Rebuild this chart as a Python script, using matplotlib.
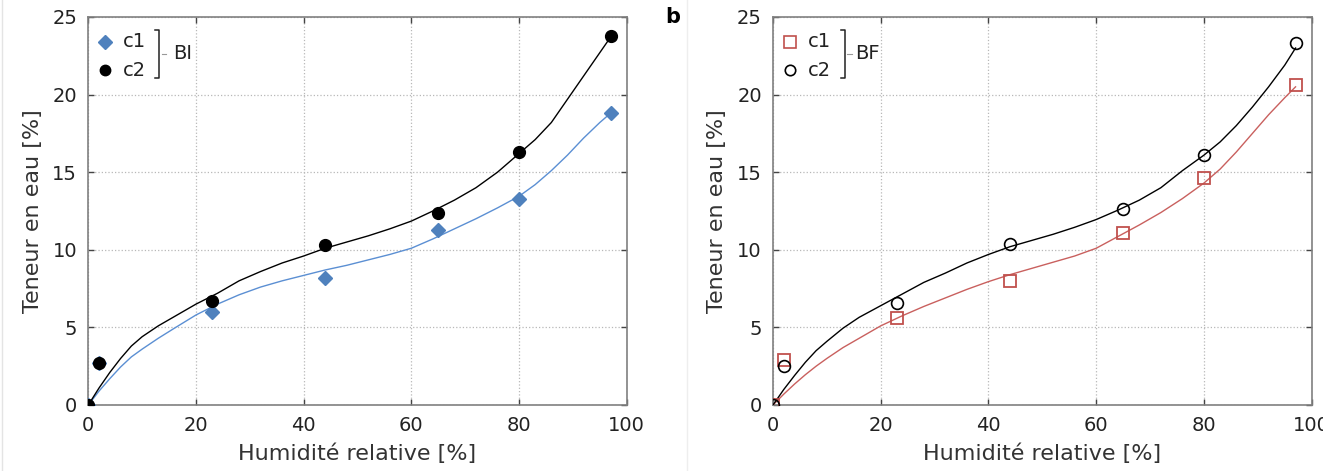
import matplotlib
matplotlib.use('Agg')
import matplotlib.pyplot as plt
from matplotlib.lines import Line2D

# measured points (relative humidity %, water content %)
hr = [0, 2, 23, 44, 65, 80, 97]
bi_c1 = [0, 2.7, 6.0, 8.2, 11.3, 13.3, 18.8]
bi_c2 = [0, 2.7, 6.7, 10.3, 12.4, 16.3, 23.8]
bf_c1 = [0, 2.9, 5.6, 8.0, 11.1, 14.6, 20.6]
bf_c2 = [0, 2.5, 6.6, 10.4, 12.6, 16.1, 23.3]

# fitted curves
fit_x = [0, 2, 4, 6, 8, 10, 13, 16, 20, 24, 28, 32, 36, 40, 44, 48, 52, 56, 60,
         64, 68, 72, 76, 80, 83, 86, 89, 92, 95, 97]
fit_bi_c1 = [0, 0.9, 1.7, 2.45, 3.1, 3.6, 4.3, 4.95, 5.8, 6.5, 7.1, 7.6, 8.0, 8.35, 8.7, 9.0,
             9.35, 9.7, 10.1, 10.7, 11.35, 12.0, 12.7, 13.45, 14.2, 15.1, 16.1, 17.2, 18.2, 18.8]
fit_bi_c2 = [0, 1.1, 2.1, 3.0, 3.8, 4.4, 5.1, 5.7, 6.5, 7.2, 8.0, 8.6, 9.15, 9.6, 10.1, 10.5,
             10.9, 11.35, 11.85, 12.5, 13.2, 14.0, 15.0, 16.2, 17.1, 18.2, 19.7, 21.2, 22.7, 23.7]
fit_bf_c1 = [0, 0.7, 1.35, 1.95, 2.5, 3.0, 3.7, 4.3, 5.1, 5.75, 6.35, 6.9, 7.45, 7.95, 8.4, 8.8,
             9.2, 9.6, 10.1, 10.85, 11.6, 12.4, 13.3, 14.3, 15.2, 16.3, 17.5, 18.7, 19.8, 20.5]
fit_bf_c2 = [0, 1.0, 1.9, 2.75, 3.5, 4.1, 4.95, 5.65, 6.4, 7.15, 7.9, 8.5, 9.15, 9.7, 10.2, 10.6,
             11.0, 11.45, 11.95, 12.55, 13.2, 14.0, 15.1, 16.1, 16.95, 18.0, 19.2, 20.5, 21.9, 23.0]

xticks = [0, 20, 40, 60, 80, 100]
yticks = [0, 5, 10, 15, 20, 25]

BLUE = '#4f81bd'
BLUE_LINE = '#5b8fd3'
RED = '#c0504d'
RED_LINE = '#c9605e'

fig = plt.figure(figsize=(13.23, 4.71), dpi=100)
ax1 = fig.add_axes([88.3 / 1323, 66 / 471, 538.4 / 1323, 388 / 471])
ax2 = fig.add_axes([773 / 1323, 66 / 471, 538.7 / 1323, 388 / 471])


def style_axes(ax):
    ax.set_xlim(0, 100)
    ax.set_ylim(0, 25)
    ax.set_xticks(xticks)
    ax.set_yticks(yticks)
    ax.grid(True, linestyle=':', color='#b8b8b8', linewidth=0.9)
    ax.set_axisbelow(True)
    for s in ax.spines.values():
        s.set_color('#808080')
        s.set_linewidth(1.2)
    ax.tick_params(direction='in', top=True, right=True, length=4, width=1,
                   color='#444444', labelsize=14, labelcolor='#222222', pad=8)
    ax.set_xlabel('Humidité relative [%]', fontsize=16, color='#333333', labelpad=6)
    ax.set_ylabel('Teneur en eau [%]', fontsize=16, color='#333333', labelpad=7)


def bracket_legend(ax, handles, labels, group, x_br, x_txt):
    ys = [0.936, 0.863]
    for h, lab, y in zip(handles, labels, ys):
        ax.add_line(Line2D([0.031], [y], transform=ax.transAxes, linestyle='none', clip_on=False, **h))
        ax.text(0.064, y, lab, transform=ax.transAxes, fontsize=14, va='center', ha='left', color='#222222')
    br = dict(transform=ax.transAxes, color='#222222', linewidth=1.1, clip_on=False)
    ax.add_line(Line2D([x_br - 0.008, x_br, x_br, x_br - 0.008], [0.966, 0.966, 0.843, 0.843], **br))
    ax.add_line(Line2D([x_br + 0.004, x_br + 0.012], [0.905, 0.905], transform=ax.transAxes,
                       color='#999999', linewidth=0.8))
    ax.text(x_txt, 0.905, group, transform=ax.transAxes, fontsize=14, va='center', ha='left', color='#222222')


# panel a : BI
style_axes(ax1)
ax1.plot(fit_x, fit_bi_c1, color=BLUE_LINE, linewidth=1.0, zorder=3)
ax1.plot(fit_x, fit_bi_c2, color='black', linewidth=1.0, zorder=3)
ax1.plot(hr, bi_c1, linestyle='none', marker='D', markersize=7.5, color=BLUE, zorder=4)
ax1.plot(hr, bi_c2, linestyle='none', marker='o', markersize=8.5, color='black', zorder=5)
bracket_legend(ax1,
               [dict(marker='D', markersize=7.5, color=BLUE),
                dict(marker='o', markersize=7.5, color='black')],
               ['c1', 'c2'], 'BI', 0.132, 0.157)

# panel b : BF
style_axes(ax2)
ax2.plot(fit_x, fit_bf_c1, color=RED_LINE, linewidth=1.0, zorder=3)
ax2.plot(fit_x, fit_bf_c2, color='black', linewidth=1.0, zorder=3)
ax2.plot(hr, bf_c1, linestyle='none', marker='s', markersize=8.5, markerfacecolor='none',
         markeredgecolor=RED, markeredgewidth=1.3, zorder=4)
ax2.plot(hr, bf_c2, linestyle='none', marker='o', markersize=8.5, markerfacecolor='none',
         markeredgecolor='black', markeredgewidth=1.2, zorder=5)
bracket_legend(ax2,
               [dict(marker='s', markersize=8, markerfacecolor='none', markeredgecolor=RED, markeredgewidth=1.2),
                dict(marker='o', markersize=7.5, markerfacecolor='none', markeredgecolor='black', markeredgewidth=1.2)],
               ['c1', 'c2'], 'BF', 0.134, 0.152)

# panel letter and faint panel borders
fig.text(665 / 1323, (471 - 23) / 471, 'b', fontsize=15, fontweight='bold', va='baseline', ha='left')
fig.add_artist(Line2D([2 / 1323, 2 / 1323], [0, 1], color='#e4e4e4', linewidth=1))
fig.add_artist(Line2D([687 / 1323, 687 / 1323], [0, 1], color='#eeeeee', linewidth=1))

plt.savefig('out.png', dpi=100)
plt.close()
